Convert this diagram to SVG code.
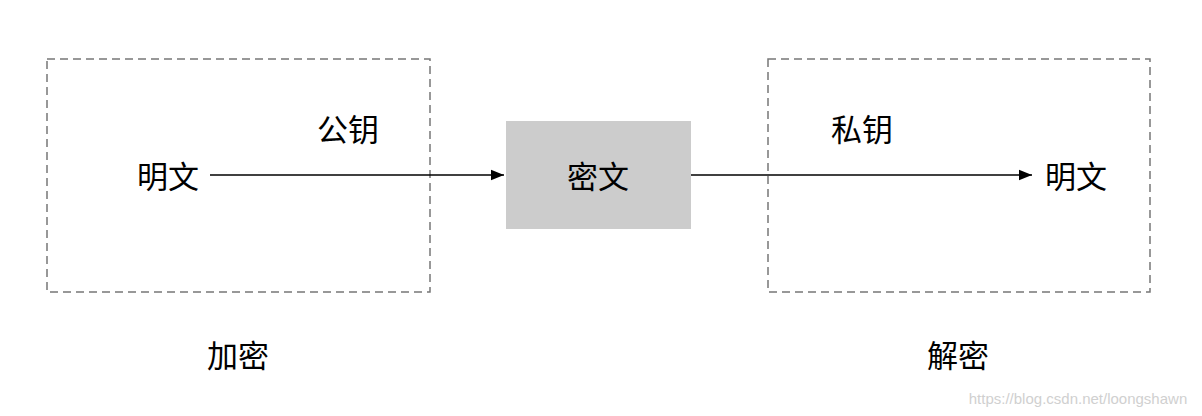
<svg xmlns="http://www.w3.org/2000/svg" width="1202" height="416" viewBox="0 0 1202 416">
<style>
text{font-family:"Liberation Sans","Noto Sans CJK SC",sans-serif;font-size:31px;fill:#000;text-anchor:middle;dominant-baseline:central}
.dash{fill:none;stroke:#777;stroke-width:1.5;stroke-dasharray:8 5}
.c{stroke:#000;stroke-width:1.5;fill:none;marker-end:url(#a)}
</style>
<defs><marker id="a" viewBox="0 0 10 10" refX="10" refY="5" markerWidth="13" markerHeight="13" markerUnits="userSpaceOnUse" orient="auto"><path d="M0,1L10,5L0,9z" fill="#000"/></marker></defs>
<rect width="1202" height="416" fill="#fff"/>
<g id="enc"><rect class="dash" x="47" y="59" width="383" height="233"/><text x="238" y="356">加密</text></g>
<g id="dec"><rect class="dash" x="768" y="59" width="382" height="233"/><text x="958" y="356">解密</text></g>
<g id="plain1"><text x="168" y="177">明文</text></g>
<g id="pub"><text x="348" y="130">公钥</text></g>
<g id="cipher"><rect x="506" y="121" width="185" height="108" fill="#cccccc"/><text x="598" y="177">密文</text></g>
<g id="priv"><text x="862" y="130">私钥</text></g>
<g id="plain2"><text x="1076" y="177">明文</text></g>
<g id="connectors"><path class="c" d="M210,175H504"/><path class="c" d="M691,175H1032"/></g>
<text x="1078" y="398" style="font-size:15px;fill:#d0d0d0">https://blog.csdn.net/loongshawn</text>
</svg>
